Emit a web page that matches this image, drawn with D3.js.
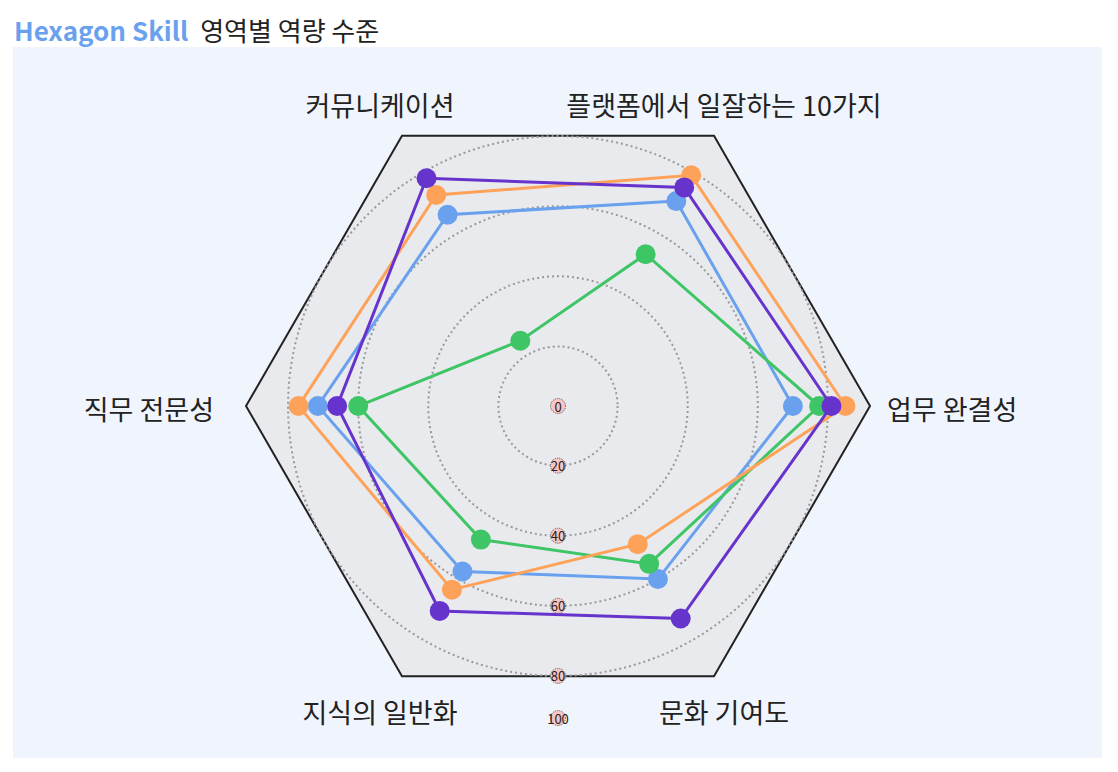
<!DOCTYPE html>
<html>
<head>
<meta charset="utf-8">
<script src="https://cdn.jsdelivr.net/npm/d3@7"></script>
<style>
  body { margin: 0; background: #fff; font-family: "Noto Sans CJK KR", "Noto Sans", sans-serif; }
</style>
</head>
<body>
<div id="chart"></div>
<script>
// axes, starting on the right and going counter-clockwise on screen
const axes = ["업무 완결성", "플랫폼에서 일잘하는 10가지", "커뮤니케이션", "직무 전문성", "지식의 일반화", "문화 기여도"];
const ticks = [0, 20, 40, 60, 80, 100];
const gridTicks = [20, 40, 60, 80];

const seriesNames = ["A", "B", "C", "D"];
const seriesColors = ["#6aa1ee", "#3ec566", "#ffa259", "#6633cc"];
const blueValues   = [70, 70.5, 66, 71.5, 57.5, 60];
const greenValues  = [77.5, 53, 24.5, 60, 47, 55];
const orangeValues = [85, 79, 72.5, 77, 63.5, 48.5];
const purpleValues = [81, 75, 78, 66, 70.5, 73];
const seriesValues = [blueValues, greenValues, orangeValues, purpleValues];

const W = 1118, H = 772;
const cx = 558, cy = 406, R = 312;

const svg = d3.select("#chart").append("svg")
  .attr("width", W).attr("height", H);

// title
const title = svg.append("text").attr("x", 14).attr("y", 41).style("font-size", "26px");
title.append("tspan").text("Hexagon Skill")
  .attr("fill", "#6aa1ee").style("font-weight", "700");
title.append("tspan").text("영역별 역량 수준")
  .attr("dx", 12).attr("fill", "#222");

// panel
svg.append("rect").attr("x", 13).attr("y", 47).attr("width", 1089).attr("height", 711)
  .attr("fill", "#f0f4fc");

const r = d3.scaleLinear().domain([3, 92]).range([0, R]).clamp(true);
const angle = i => -i * Math.PI / 3;

const g = svg.append("g").attr("transform", `translate(${cx},${cy})`);

// hexagon frame
const hex = axes.map((d, i) => [R * Math.cos(angle(i)), R * Math.sin(angle(i))]);
g.append("polygon")
  .attr("points", hex.map(p => p.join(",")).join(" "))
  .attr("fill", "#e9eaee")
  .attr("stroke", "#222")
  .attr("stroke-width", 2);

// dotted grid circles
g.append("g").selectAll("circle")
  .data(gridTicks)
  .join("circle")
    .attr("r", d => r(d))
    .attr("fill", "none")
    .attr("stroke", "#999")
    .attr("stroke-width", 2)
    .attr("stroke-dasharray", "2,3");

// axis labels
const lab = g.append("g").style("font-size", "27px").attr("fill", "#222");
axes.forEach((name, i) => {
  const a = angle(i);
  const c = Math.cos(a), s = Math.sin(a);
  let x, y, anchor;
  if (Math.abs(s) < 0.01) {
    x = c > 0 ? R + 17 : -(R + 32);
    y = 2;
    anchor = c > 0 ? "start" : "end";
  } else {
    x = 348 * c + (c > 0 ? -8 : -4);
    y = 348 * s + (s > 0 ? 4 : 0);
    anchor = "middle";
  }
  lab.append("text")
    .attr("x", x).attr("y", y)
    .attr("text-anchor", anchor)
    .attr("dominant-baseline", "central")
    .text(name);
});

// series
const line = d3.line()
  .x((d, i) => r(d) * Math.cos(angle(i)))
  .y((d, i) => r(d) * Math.sin(angle(i)))
  .curve(d3.curveLinearClosed);

seriesValues.forEach((vals, k) => {
  const sg = g.append("g").attr("class", "series-" + seriesNames[k]);
  sg.append("path")
    .attr("d", line(vals))
    .attr("fill", "none")
    .attr("stroke", seriesColors[k])
    .attr("stroke-width", 3);
  sg.selectAll("circle")
    .data(vals)
    .join("circle")
      .attr("cx", (d, i) => r(d) * Math.cos(angle(i)))
      .attr("cy", (d, i) => r(d) * Math.sin(angle(i)))
      .attr("r", 10)
      .attr("fill", seriesColors[k]);
});

// radial tick labels along the downward axis
const tk = g.append("g").selectAll("g")
  .data(ticks)
  .join("g")
    .attr("transform", d => `translate(0,${r(d)})`);
tk.append("circle")
  .attr("r", 7.5)
  .attr("fill", "#f8c4c4")
  .attr("stroke", "#555")
  .attr("stroke-width", 1)
  .attr("stroke-dasharray", "1,1");
tk.append("text")
  .attr("text-anchor", "middle")
  .attr("dominant-baseline", "central")
  .style("font-size", "13px")
  .attr("fill", "#222")
  .text(d => d);
</script>
</body>
</html>
